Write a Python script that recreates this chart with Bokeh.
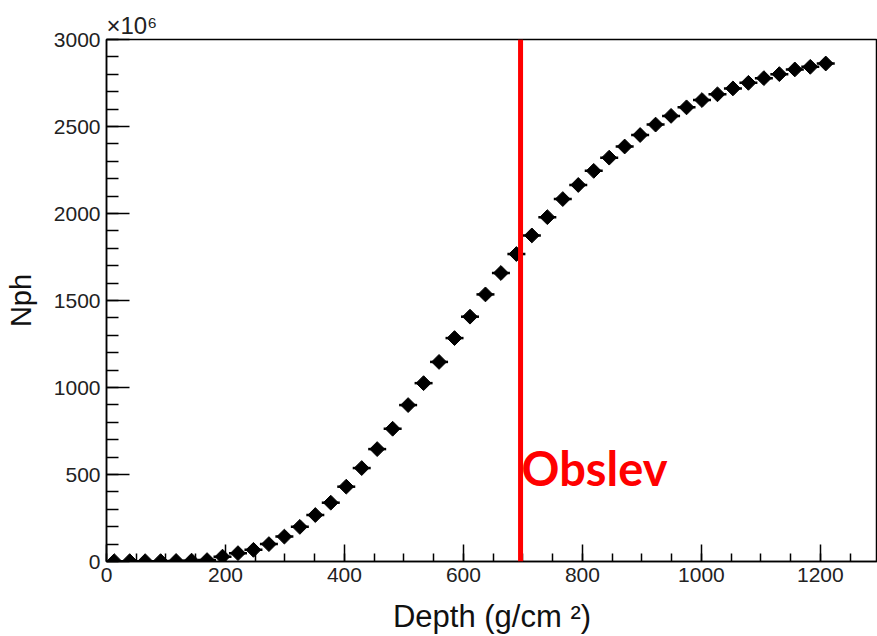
import math
from bokeh.plotting import figure
from bokeh.models import Range1d, SingleIntervalTicker, Span, Label, Title
from bokeh.embed import file_html
from bokeh.resources import INLINE

depth = [13, 39, 65, 91, 117, 143, 169, 195, 221, 247, 273, 299, 325, 351, 377, 403,
         429, 455, 481, 507, 533, 559, 585, 611, 637, 663, 689, 715, 741, 767, 793, 819,
         845, 871, 897, 923, 949, 975, 1001, 1027, 1053, 1079, 1105, 1131, 1157, 1183, 1209]
nph = [2, 2, 2, 2, 3, 5, 8, 28, 48, 67, 100, 143, 199, 267, 338, 430,
       537, 646, 763, 899, 1025, 1147, 1284, 1407, 1535, 1658, 1767, 1874, 1979, 2083, 2164, 2245,
       2321, 2385, 2451, 2511, 2561, 2610, 2652, 2685, 2719, 2751, 2778, 2801, 2828, 2843, 2862]
obslev = 696
obslev_label = "Obslev"
x_title = "Depth (g/cm \u00b2)"
y_title = "Nph"
scale_note = "\u00d710\u2076"

FONT = "Liberation Sans"

p = figure(width=877, height=636, output_backend="svg", toolbar_location=None,
           x_range=Range1d(0, 1296), y_range=Range1d(0, 3000),
           min_border_left=106, min_border_right=0, min_border_top=39, min_border_bottom=74)
p.background_fill_color = "white"
p.border_fill_color = "white"
p.outline_line_color = "black"
p.outline_line_width = 1.5
p.grid.visible = False

p.title = Title(text=scale_note, align="left", text_font=FONT, text_font_size="24px",
                text_font_style="normal", text_color="#222222", standoff=2, offset=0)

p.xaxis.ticker = SingleIntervalTicker(interval=200, num_minor_ticks=4)
p.yaxis.ticker = SingleIntervalTicker(interval=500, num_minor_ticks=5)

for ax in (p.xaxis[0], p.yaxis[0]):
    ax.axis_line_color = "black"
    ax.axis_line_width = 1.5
    ax.major_tick_out = 0
    ax.minor_tick_out = 0
    ax.major_tick_line_color = "black"
    ax.minor_tick_line_color = "black"
    ax.major_tick_line_width = 1.5
    ax.minor_tick_line_width = 1.5
    ax.major_label_text_font = FONT
    ax.major_label_text_font_size = "21px"
    ax.major_label_text_color = "#222222"
    ax.axis_label_text_font = FONT
    ax.axis_label_text_font_style = "normal"
    ax.axis_label_text_color = "#111111"

p.xaxis.axis_label_text_font_size = "31px"
p.yaxis.axis_label_text_font_size = "29px"
p.xaxis.major_tick_in = 17
p.xaxis.minor_tick_in = 8
p.yaxis.major_tick_in = 23
p.yaxis.minor_tick_in = 12
p.xaxis.major_label_standoff = 6
p.yaxis.major_label_standoff = 6
p.xaxis.axis_label = x_title
p.yaxis.axis_label = y_title
p.xaxis.axis_label_standoff = 14
p.yaxis.axis_label_standoff = 14

p.add_layout(Span(location=obslev, dimension="height", line_color="#ff0000", line_width=5))

p.scatter(depth, nph, marker="square", angle=math.pi / 4, size=10.5,
          fill_color="black", line_color="black", line_width=1)
p.scatter(depth, nph, marker="dash", size=18, line_color="black", line_width=2.5)

p.add_layout(Label(x=obslev, y=537, text=obslev_label, x_offset=1,
                   text_font="Lato", text_font_style="bold", text_font_size="47px",
                   text_color="#ff0000", text_baseline="alphabetic"))

open("out.html", "w").write(file_html(p, INLINE))
